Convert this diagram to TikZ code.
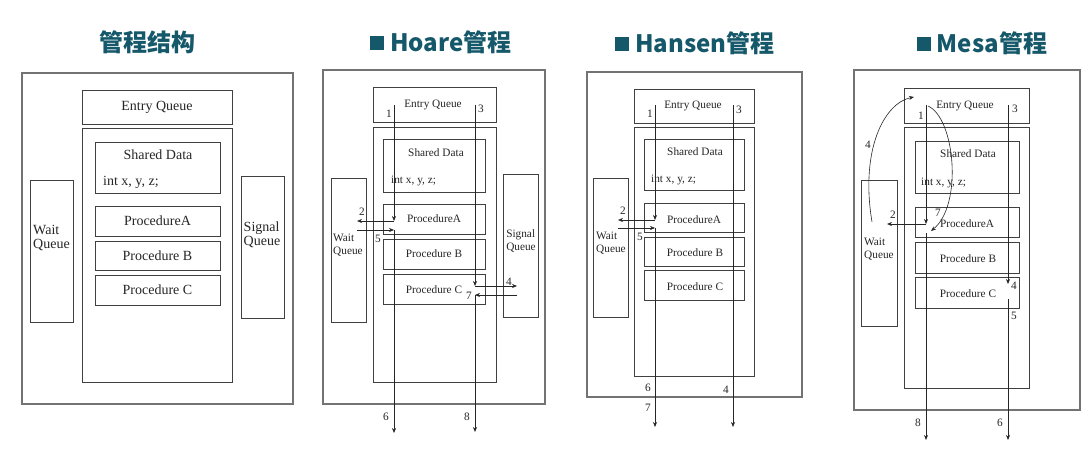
\documentclass[tikz,border=0pt]{standalone}
\usepackage{fontspec}
\setmainfont{Liberation Serif}
\newfontfamily\cjk{Noto Sans CJK SC}
\newfontfamily\dfont{Liberation Serif}
\usetikzlibrary{arrows.meta}
\definecolor{titlec}{RGB}{21,88,106}
\newcommand\mybox[6]{\node[box, minimum width={(#4-#2)*1pt}, minimum height={(#5-#3)*1pt}] (#1) at ({(#2+#4)/2},{(#3+#5)/2}) {#6};}
\newcommand\tsq{\raisebox{1.5pt}{\rule{14pt}{14pt}}\hspace{6pt}}
\begin{document}
\begin{tikzpicture}[x=1pt,y=-1pt,
  box/.style={draw=black!75, line width=0.8pt, inner sep=0pt, outer sep=0pt},
  outerbox/.style={box, draw=black!55, line width=1.2pt},
  txt/.style={inner sep=0pt, text=black!85},
  arr/.style={-{Stealth[length=5pt,width=4pt]}, line width=0.6pt, draw=black!85},
  ttl/.style={font=\cjk\bfseries\fontsize{24}{28}\selectfont, text=titlec, inner sep=0pt},
  small/.style={font=\dfont\fontsize{11.3}{13}\selectfont},
  big/.style={font=\dfont\fontsize{14}{14}\selectfont}
]
\useasboundingbox[fill=white] (0,0) rectangle (1092,457);

% ---------------- titles ----------------
\node[ttl] (t1) at (147,42) {管程结构};
\node[ttl] (t2) at (441,42) {\tsq Hoare管程};
\node[ttl] (t3) at (695,43) {\tsq Hansen管程};
\node[ttl] (t4) at (982,43) {\tsq Mesa管程};

% ---------------- panel 1 ----------------
\begin{scope}[every node/.append style={big, text=black!85}]
\node[outerbox, minimum width=271pt, minimum height=331pt] (a-out) at (157.5,238.5) {};
\mybox{a-entry}{82}{90}{232}{124}{Entry Queue}
\mybox{a-in}{82}{128}{232}{382}{}
\mybox{a-shared}{95}{142}{220}{193}{}
\node[txt] (a-sdt) at (158,155) {Shared Data};
\node[txt, anchor=west] (a-int) at (103,182) {int x, y, z;};
\mybox{a-pa}{95}{206}{220}{236}{ProcedureA}
\mybox{a-pb}{95}{241}{220}{270}{Procedure B}
\mybox{a-pc}{95}{275}{220}{305}{Procedure C}
\mybox{a-wait}{30}{180}{73}{322}{}
\node[txt, anchor=west, align=left] (a-wt) at (33,238) {Wait\\Queue};
\mybox{a-sig}{241}{176}{284}{318}{}
\node[txt, align=left] (a-st) at (262,235) {Signal\\Queue};
\end{scope}

% ---------------- panel 2 : Hoare ----------------
\begin{scope}[every node/.append style={small, text=black!85}]
\node[outerbox, minimum width=222pt, minimum height=334pt] (b-out) at (434,237) {};
\mybox{b-entry}{373}{87}{496}{122}{}
\node[txt] (b-et) at (433,105) {Entry Queue};
\mybox{b-in}{373}{127}{496}{382}{}
\mybox{b-shared}{383}{139}{485}{192}{}
\node[txt] (b-sdt) at (436,153) {Shared Data};
\node[txt, anchor=west] (b-int) at (391,181) {int x, y, z;};
\mybox{b-pa}{383}{204}{485}{234}{ProcedureA}
\mybox{b-pb}{383}{239}{485}{269}{Procedure B}
\mybox{b-pc}{383}{274}{485}{304}{}
\node[txt] (b-pct) at (434,290) {Procedure C};
\mybox{b-wait}{331}{178}{366}{322}{}
\node[txt, anchor=west, align=left] (b-wt) at (333,245) {Wait\\Queue};
\mybox{b-sig}{503}{174}{538}{317}{}
\node[txt, align=left] (b-st) at (521,241) {Signal\\Queue};
% connectors
\coordinate (b1s) at (394,105); \coordinate (b1c) at (394,221);
\coordinate (b2e) at (357,221); \coordinate (b5s) at (357,230);
\coordinate (b5c) at (394,230); \coordinate (b6e) at (394,433);
\draw[arr] (b1s) -- (b1c);
\draw[arr] (b1c) -- (b2e);
\draw[arr] (b5s) -- (b5c);
\draw[arr] (b5c) -- (b6e);
\coordinate (b3s) at (475,105); \coordinate (b3c) at (475,286);
\coordinate (b4e) at (517,286); \coordinate (b7s) at (517,295);
\coordinate (b7c) at (475,295); \coordinate (b8e) at (475,432);
\draw[arr] (b3s) -- (b3c);
\draw[arr] (b3c) -- (b4e);
\draw[arr] (b7s) -- (b7c);
\draw[arr] (b7c) -- (b8e);
\node[txt] (b-l1) at (389,114) {1};
\node[txt] (b-l2) at (362,212) {2};
\node[txt] (b-l5) at (378,239) {5};
\node[txt] (b-l6) at (386,417) {6};
\node[txt] (b-l3) at (481,109) {3};
\node[txt] (b-l4) at (509,282) {4};
\node[txt] (b-l7) at (469,296) {7};
\node[txt] (b-l8) at (467,417) {8};
\end{scope}

% ---------------- panel 3 : Hansen ----------------
\begin{scope}[every node/.append style={small, text=black!85}]
\node[outerbox, minimum width=215pt, minimum height=325pt] (c-out) at (694.5,234.5) {};
\mybox{c-entry}{634}{89}{754}{123}{}
\node[txt] (c-et) at (693,106) {Entry Queue};
\mybox{c-in}{634}{127}{754}{376}{}
\mybox{c-shared}{644}{139}{744}{190}{}
\node[txt] (c-sdt) at (695,152) {Shared Data};
\node[txt, anchor=west] (c-int) at (651,180) {int x, y, z;};
\mybox{c-pa}{644}{203}{744}{232}{}
\node[txt] (c-pat) at (694,220) {ProcedureA};
\mybox{c-pb}{644}{237}{744}{266}{}
\node[txt] (c-pbt) at (695,253) {Procedure B};
\mybox{c-pc}{644}{270}{744}{300}{}
\node[txt] (c-pct) at (695,287) {Procedure C};
\mybox{c-wait}{593}{178}{628}{317}{}
\node[txt, anchor=west, align=left] (c-wt) at (596,243) {Wait\\Queue};
% connectors
\coordinate (c1s) at (655,105); \coordinate (c1c) at (655,220);
\coordinate (c2e) at (618,220); \coordinate (c5s) at (618,228);
\coordinate (c5c) at (655,228); \coordinate (c6e) at (655,427);
\draw[arr] (c1s) -- (c1c);
\draw[arr] (c1c) -- (c2e);
\draw[arr] (c5s) -- (c5c);
\draw[arr] (c5c) -- (c6e);
\coordinate (c3s) at (733,105); \coordinate (c4e) at (733,427);
\draw[arr] (c3s) -- (c4e);
\node[txt] (c-l1) at (650,114) {1};
\node[txt] (c-l2) at (623,211) {2};
\node[txt] (c-l5) at (640,237) {5};
\node[txt] (c-l6) at (648,388) {6};
\node[txt] (c-l7) at (648,408) {7};
\node[txt] (c-l3) at (739,110) {3};
\node[txt] (c-l4) at (726,390) {4};
\end{scope}

% ---------------- panel 4 : Mesa ----------------
\begin{scope}[every node/.append style={small, text=black!85}]
\node[outerbox, minimum width=226pt, minimum height=340pt] (d-out) at (967,240) {};
\mybox{d-entry}{904}{88}{1029}{123}{}
\node[txt] (d-et) at (965,106) {Entry Queue};
\mybox{d-in}{904}{127}{1029}{388}{}
\mybox{d-shared}{915}{141}{1019}{193}{}
\node[txt] (d-sdt) at (968,154) {Shared Data};
\node[txt, anchor=west] (d-int) at (921,183) {int x, y, z;};
\mybox{d-pa}{915}{207}{1019}{237}{}
\node[txt] (d-pat) at (967,224) {ProcedureA};
\mybox{d-pb}{915}{242}{1019}{273}{}
\node[txt] (d-pbt) at (968,259) {Procedure B};
\mybox{d-pc}{915}{277}{1019}{308}{}
\node[txt] (d-pct) at (968,294) {Procedure C};
\mybox{d-wait}{861}{180}{897}{326}{}
\node[txt, anchor=west, align=left] (d-wt) at (864,249) {Wait\\Queue};
% connectors
\coordinate (d1s) at (926,105); \coordinate (d1c) at (926,224);
\coordinate (d2e) at (887,224); \coordinate (d8s) at (926,233);
\coordinate (d8e) at (926,440);
\draw[arr] (d1s) -- (d1c);
\draw[arr] (d1c) -- (d2e);
\draw[arr] (d8s) -- (d8e);
\coordinate (d3s) at (1008,105); \coordinate (d4e) at (1008,284);
\coordinate (d5s) at (1008,299); \coordinate (d6e) at (1008,440);
\draw[arr] (d3s) -- (d4e);
\draw[arr] (d5s) -- (d6e);
\coordinate (d4s) at (872,222); \coordinate (d4t) at (914,97);
\draw[arr] (d4s) .. controls (860,150) and (884,103) .. (d4t);
\coordinate (d7s) at (928,106); \coordinate (d7t) at (931,231);
\draw[arr] (d7s) .. controls (955,118) and (963,205) .. (d7t);
\node[txt] (d-l1) at (921,116) {1};
\node[txt] (d-l2) at (893,215) {2};
\node[txt] (d-l8) at (918,423) {8};
\node[txt] (d-l3) at (1015,109) {3};
\node[txt] (d-l4b) at (1014,286) {4};
\node[txt] (d-l5) at (1014,316) {5};
\node[txt] (d-l6) at (1000,423) {6};
\node[txt] (d-l4) at (868,145) {4};
\node[txt] (d-l7) at (938,213) {7};
\end{scope}
\end{tikzpicture}
\end{document}
